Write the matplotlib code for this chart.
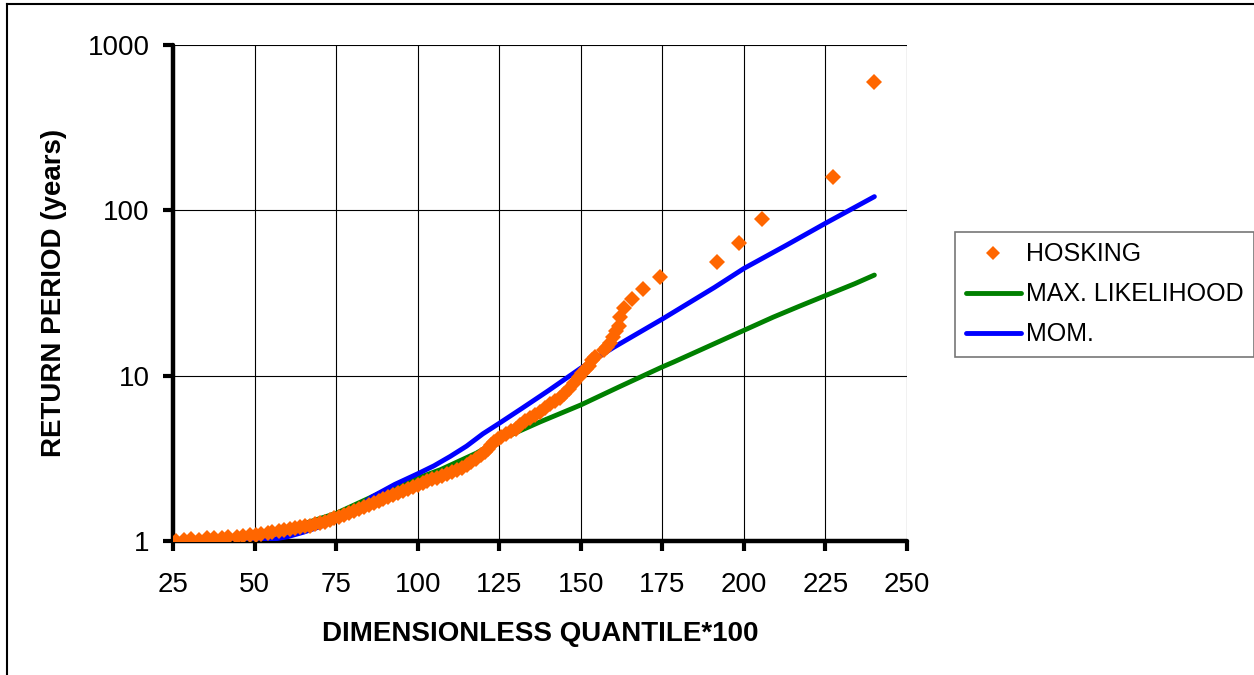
import matplotlib
matplotlib.use("Agg")
import matplotlib.pyplot as plt
from matplotlib.lines import Line2D

plt.rcParams['font.family'] = ['Liberation Sans', 'DejaVu Sans']

# HOSKING plotting positions (quantile*100, return period)
hosking_q = [26.0, 28.5, 30.5, 33.0, 35.5, 37.5, 40.0, 42.0, 44.5, 46.5,
             48.5, 50.5, 52.0, 54.0, 55.5, 57.5, 59.0, 61.0, 62.5, 64.0,
             65.5, 67.0, 68.5, 70.0, 71.5, 73.0, 74.5, 76.0, 77.5, 79.0,
             80.5, 82.0, 83.5, 85.0, 86.5, 88.0, 89.5, 91.0, 92.5, 94.0,
             95.5, 97.0, 98.5, 100.0, 101.5, 103.0, 104.5, 106.0, 107.5, 109.0,
             110.5, 112.0, 113.5, 115.0, 116.5, 118.0, 119.5, 120.5, 121.5, 122.5,
             123.5, 124.5, 125.5, 127.0, 128.5, 130.0, 131.5, 133.0, 134.5, 136.0,
             137.5, 139.0, 140.5, 142.0, 143.5, 145.0, 146.5, 148.0, 149.5, 150.5,
             151.5, 152.5, 153.5, 154.5, 157.0, 158.0, 159.0, 160.0, 160.8, 161.6,
             162.0, 163.4, 165.7, 169.0, 174.3, 191.8, 198.4, 205.5, 227.2, 239.8]
hosking_t = [1.00, 1.02, 1.03, 1.02, 1.04, 1.04, 1.04, 1.05, 1.06, 1.07,
             1.08, 1.09, 1.10, 1.12, 1.13, 1.15, 1.17, 1.18, 1.20, 1.21,
             1.23, 1.24, 1.26, 1.28, 1.31, 1.34, 1.37, 1.40, 1.44, 1.48,
             1.52, 1.56, 1.61, 1.65, 1.70, 1.75, 1.80, 1.85, 1.90, 1.95,
             2.00, 2.06, 2.12, 2.18, 2.24, 2.30, 2.36, 2.42, 2.47, 2.53,
             2.60, 2.68, 2.78, 2.88, 3.00, 3.15, 3.32, 3.45, 3.62, 3.80,
             3.98, 4.15, 4.28, 4.45, 4.60, 4.75, 5.00, 5.30, 5.55, 5.75,
             6.00, 6.35, 6.75, 7.05, 7.35, 7.80, 8.30, 9.00, 9.80, 10.4,
             10.9, 11.4, 12.4, 12.9, 14.3, 15.0, 15.8, 17.2, 18.5, 20.1,
             22.6, 25.5, 28.9, 33.3, 39.6, 48.5, 63.5, 89.0, 158.0, 596.0]

# maximum likelihood fit
ml_q = [27, 35, 45, 55, 65, 75, 88, 100, 107, 118, 125, 137.5, 150, 162,
        175, 178.5, 187, 200, 209, 217, 225, 234, 240]
ml_t = [1.0, 1.02, 1.06, 1.13, 1.27, 1.47, 1.93, 2.4, 2.7, 3.4, 4.08, 5.25, 6.65, 8.6,
        11.3, 12.1, 14.4, 18.8, 22.6, 26.3, 30.5, 36.0, 40.6]

# method of moments fit
mom_q = [30, 40, 50, 55, 60, 65, 70, 75, 80, 86, 93, 100, 105, 110, 115, 120,
         125, 132, 140, 150, 160, 175, 191, 200, 213, 225, 240]
mom_t = [1.0, 1.0, 1.0, 1.02, 1.06, 1.13, 1.22, 1.33, 1.5, 1.85, 2.2, 2.55, 2.85, 3.25, 3.75, 4.45,
         5.15, 6.35, 8.1, 11.1, 14.8, 22.0, 34.2, 44.5, 61.5, 83.5, 121.0]

fig = plt.figure(figsize=(12.54, 6.75), dpi=100)
ax = fig.add_axes([173/1254, 1 - 541/675, (907 - 173)/1254, (541 - 45)/675])

ax.plot(hosking_q, hosking_t, linestyle="none", marker="D", markersize=8,
        color="#FF6600", markeredgewidth=0, label="HOSKING", zorder=4)
ax.plot(ml_q, ml_t, color="#008000", lw=3.5, label="MAX. LIKELIHOOD", zorder=3,
        solid_capstyle="round", solid_joinstyle="round")
ax.plot(mom_q, mom_t, color="#0000FF", lw=3.5, label="MOM.", zorder=3,
        solid_capstyle="round", solid_joinstyle="round")

ax.set_yscale("log")
ax.set_xlim(25, 250)
ax.set_ylim(1, 1000)
ax.set_xticks(range(25, 251, 25))
ax.set_yticks([1, 10, 100, 1000])
ax.set_yticklabels(["1", "10", "100", "1000"])
ax.minorticks_off()
ax.grid(True, color="black", lw=0.8)
ax.set_axisbelow(True)

for s in ["top", "right"]:
    ax.spines[s].set_visible(False)
for s in ["left", "bottom"]:
    ax.spines[s].set_linewidth(3.2)
    ax.spines[s].set_capstyle("round")
ax.tick_params(axis="both", length=7, width=3, labelsize=20)
ax.tick_params(axis="x", pad=15)
ax.tick_params(axis="y", pad=10)

ax.set_xlabel("DIMENSIONLESS QUANTILE*100", fontsize=20, fontweight="bold", labelpad=17)
ax.set_ylabel("RETURN PERIOD (years)", fontsize=20, fontweight="bold", labelpad=15)

leg = fig.legend(loc="upper left", bbox_to_anchor=(955/1254, 1 - 232/675),
                 fontsize=18, frameon=True, fancybox=False, edgecolor="#555555",
                 handlelength=2.2, handletextpad=0.22, borderpad=0.42,
                 borderaxespad=0, labelspacing=0.64, markerscale=0.85)
leg.get_frame().set_linewidth(1.2)

# outer border of the chart area
fig.add_artist(Line2D([7/1254, 7/1254], [0, 1 - 4/675], color="black", lw=1.5))
fig.add_artist(Line2D([7/1254, 1], [1 - 4/675, 1 - 4/675], color="black", lw=1.5))

fig.savefig("out.png", dpi=100)
